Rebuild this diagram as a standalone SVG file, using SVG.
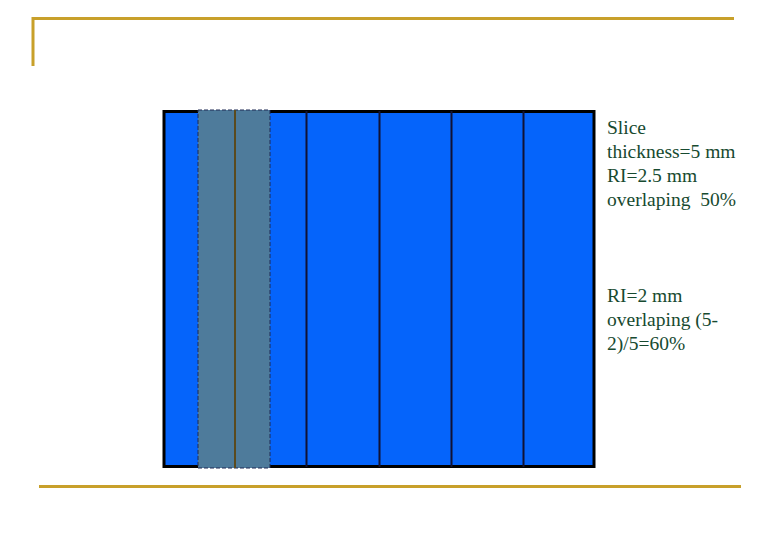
<svg xmlns="http://www.w3.org/2000/svg" width="780" height="540" viewBox="0 0 780 540">
<style>
.gold{stroke:#c8a02a;stroke-width:3;fill:none}
.div{stroke:#111133;stroke-width:2}
.t{font-family:"Liberation Serif",serif;font-size:19.5px;fill:#174a30}
</style>
<rect width="780" height="540" fill="#ffffff"/>
<g id="frame">
<polyline class="gold" points="33,66 33,18.5 734,18.5"/>
<line class="gold" x1="39" y1="486.5" x2="741" y2="486.5"/>
</g>
<g id="slices">
<rect x="164" y="111.5" width="430" height="355" fill="#0564fb" stroke="#000" stroke-width="3"/>
<line class="div" x1="306.5" y1="111" x2="306.5" y2="467"/>
<line class="div" x1="379.5" y1="111" x2="379.5" y2="467"/>
<line class="div" x1="451.5" y1="111" x2="451.5" y2="467"/>
<line class="div" x1="523.5" y1="111" x2="523.5" y2="467"/>
</g>
<g id="overlap">
<rect x="198" y="110" width="72" height="358" fill="#4e7b9b" stroke="#1e2a55" stroke-width="1" stroke-dasharray="4,2"/>
<line x1="235" y1="110" x2="235" y2="468" stroke="#5a4a1e" stroke-width="2"/>
</g>
<g id="label1">
<text class="t" x="607" y="134">Slice</text>
<text class="t" x="607" y="158">thickness=5 mm</text>
<text class="t" x="607" y="182">RI=2.5 mm</text>
<text class="t" x="607" y="206" xml:space="preserve">overlaping  50%</text>
</g>
<g id="label2">
<text class="t" x="607" y="302">RI=2 mm</text>
<text class="t" x="607" y="326">overlaping (5-</text>
<text class="t" x="607" y="350">2)/5=60%</text>
</g>
</svg>
